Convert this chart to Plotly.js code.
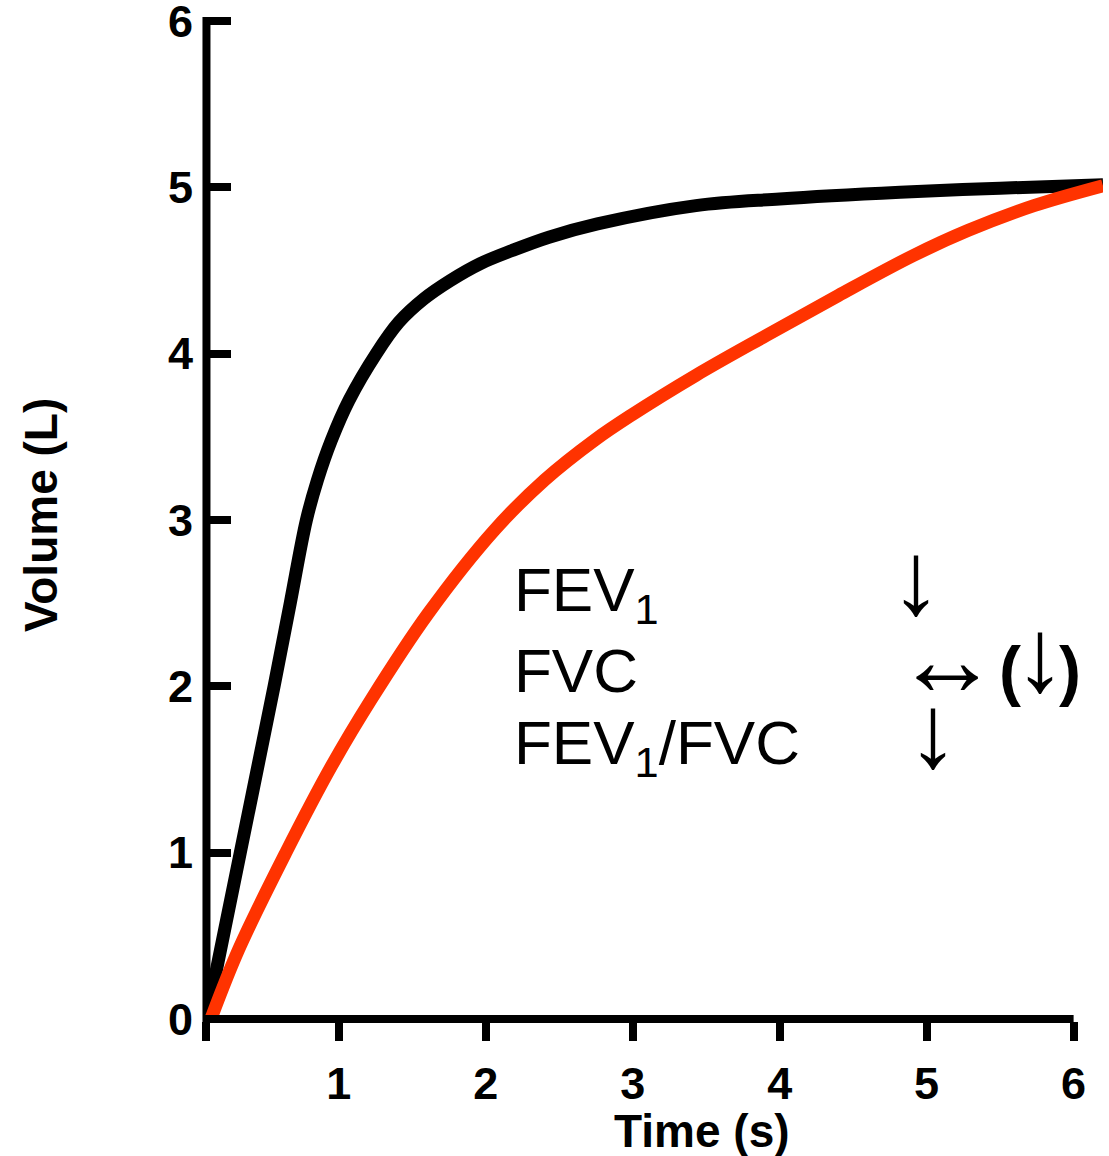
<!DOCTYPE html>
<html>
<head>
<meta charset="utf-8">
<script src="https://cdn.plot.ly/plotly-3.0.1.min.js"></script>
<style>html,body{margin:0;padding:0;background:#fff;}#chart{width:1109px;height:1156px;}</style>
</head>
<body>
<div id="chart"></div>
<script>
// Time (s) and volume (L)
const normalTime   = [0.10, 0.33, 0.56, 0.67, 0.78, 0.855, 0.95, 1.07, 1.255, 1.41, 1.58, 1.76, 1.96, 2.18, 2.43, 2.76, 3.43, 4.00, 4.82, 5.50, 6.20];
const normalVolume = [0.00, 1.00, 2.00, 2.50, 3.00, 3.24, 3.48, 3.72, 4.00, 4.19, 4.33, 4.44, 4.54, 4.62, 4.70, 4.78, 4.89, 4.93, 4.97, 4.995, 5.015];

const obstructTime   = [0.13, 0.32, 0.64, 0.95, 1.22, 1.61, 2.06, 2.40, 2.74, 2.99, 3.43, 3.91, 4.40, 4.91, 5.28, 5.73, 6.20];
const obstructVolume = [0.00, 0.42, 1.00, 1.52, 1.92, 2.44, 2.94, 3.24, 3.48, 3.63, 3.87, 4.11, 4.35, 4.59, 4.74, 4.89, 5.01];

const xTickVals = [0.1, 1, 2, 3, 4, 5, 6];
const xTickText = ['', '1', '2', '3', '4', '5', '6'];
const yTickVals = [0, 1, 2, 3, 4, 5, 6];
const yTickText = ['0', '1', '2', '3', '4', '5', '6'];

const xRange = [0.09, 6.2];
const yRange = [-0.012, 6.012];
const xAxisStart = 0.1;
const xAxisEnd = 6;
const yAxisStart = 0;

const FONT = 'Liberation Sans, Arial, Helvetica, sans-serif';

const traces = [
  {x: normalTime, y: normalVolume, mode: 'lines', name: 'Normal',
   line: {color: '#000000', width: 13, shape: 'spline', smoothing: 1}, hoverinfo: 'skip'},
  {x: obstructTime, y: obstructVolume, mode: 'lines', name: 'Obstructive',
   line: {color: '#ff3300', width: 13, shape: 'spline', smoothing: 1}, hoverinfo: 'skip'}
];

const tickFont = {family: FONT, size: 45, color: '#000', weight: 'bold'};
const txtFont = {family: FONT, size: 62, color: '#000'};
const arrowFont = {family: FONT, size: 104, color: '#000'};

const M = {l: 205, r: 6, t: 19, b: 135};
const W = 1109 - M.l - M.r, H = 1156 - M.t - M.b;
// pixel -> paper helpers for annotation placement
const px = v => (v - M.l) / W;
const py = v => (1156 - M.b - v) / H;
// data -> paper helpers for the axis lines
const dx = v => (v - xRange[0]) / (xRange[1] - xRange[0]);
const dy = v => (v - yRange[0]) / (yRange[1] - yRange[0]);

const layout = {
  width: 1109, height: 1156, autosize: false,
  margin: {l: M.l, r: M.r, t: M.t, b: M.b, pad: 0},
  paper_bgcolor: '#ffffff', plot_bgcolor: 'rgba(0,0,0,0)',
  showlegend: false,
  xaxis: {range: xRange, tickmode: 'array', tickvals: xTickVals, ticktext: xTickText,
          ticks: 'outside', ticklen: 19, tickwidth: 8, tickcolor: '#000',
          showline: false, showgrid: false, zeroline: false, ticklabeloverflow: 'allow',
          tickfont: tickFont, ticklabelstandoff: 4, fixedrange: true},
  yaxis: {range: yRange, tickmode: 'array', tickvals: yTickVals, ticktext: yTickText,
          ticks: 'inside', ticklen: 26, tickwidth: 8, tickcolor: '#000',
          showline: false, showgrid: false, zeroline: false, ticklabeloverflow: 'allow',
          tickfont: tickFont, ticklabelstandoff: 11, fixedrange: true},
  shapes: [
    {type: 'line', xref: 'paper', yref: 'paper', x0: dx(xAxisStart), x1: dx(xAxisEnd), y0: dy(yAxisStart), y1: dy(yAxisStart),
     line: {color: '#000', width: 8}, layer: 'below'},
    {type: 'line', xref: 'paper', yref: 'paper', x0: dx(xAxisStart), x1: dx(xAxisStart), y0: py(1023), y1: py(17),
     line: {color: '#000', width: 8}, layer: 'below'}
  ],
  annotations: [
    {text: 'Time (s)', xref: 'paper', yref: 'paper', x: px(702), y: py(1131), xanchor: 'center', yanchor: 'middle',
     showarrow: false, font: {family: FONT, size: 46, color: '#000', weight: 'bold'}},
    {text: 'Volume (L)', xref: 'paper', yref: 'paper', x: px(41), y: py(515), xanchor: 'center', yanchor: 'middle',
     textangle: -90, showarrow: false, font: {family: FONT, size: 46, color: '#000', weight: 'bold'}},
    {text: 'FEV<sub>1</sub>', xref: 'paper', yref: 'paper', x: px(512), y: py(594), xanchor: 'left', yanchor: 'middle',
     showarrow: false, font: txtFont},
    {text: 'FVC', xref: 'paper', yref: 'paper', x: px(512), y: py(670), xanchor: 'left', yanchor: 'middle',
     showarrow: false, font: txtFont},
    {text: 'FEV<sub>1</sub>/FVC', xref: 'paper', yref: 'paper', x: px(512), y: py(747), xanchor: 'left', yanchor: 'middle',
     showarrow: false, font: txtFont},
    {text: '\u2193', xref: 'paper', yref: 'paper', x: px(916), y: py(578), xanchor: 'center', yanchor: 'middle',
     showarrow: false, font: arrowFont},
    {text: '\u2194', xref: 'paper', yref: 'paper', x: px(947), y: py(659), xanchor: 'center', yanchor: 'middle',
     showarrow: false, font: arrowFont},
    {text: '(', xref: 'paper', yref: 'paper', x: px(1010), y: py(670), xanchor: 'center', yanchor: 'middle',
     showarrow: false, font: {family: FONT, size: 66, color: '#000', weight: 'bold'}},
    {text: '\u2193', xref: 'paper', yref: 'paper', x: px(1040), y: py(655), xanchor: 'center', yanchor: 'middle',
     showarrow: false, font: {family: FONT, size: 104, color: '#000', weight: 'bold'}},
    {text: ')', xref: 'paper', yref: 'paper', x: px(1070), y: py(670), xanchor: 'center', yanchor: 'middle',
     showarrow: false, font: {family: FONT, size: 66, color: '#000', weight: 'bold'}},
    {text: '\u2193', xref: 'paper', yref: 'paper', x: px(933), y: py(731), xanchor: 'center', yanchor: 'middle',
     showarrow: false, font: arrowFont}
  ]
};

Plotly.newPlot('chart', traces, layout, {staticPlot: true, displayModeBar: false});
</script>
</body>
</html>
